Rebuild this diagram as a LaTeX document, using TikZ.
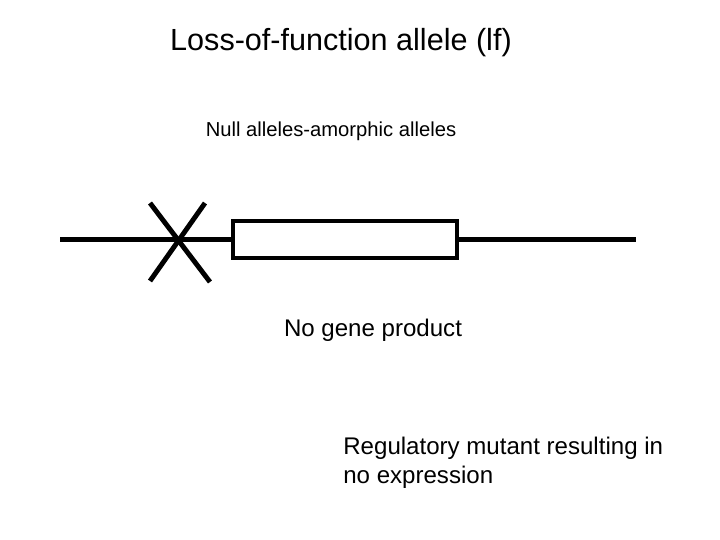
\documentclass[tikz,border=0pt]{standalone}
\usepackage{fontspec}
\setmainfont{Liberation Sans}
\usetikzlibrary{positioning}

\begin{document}
\begin{tikzpicture}[
  x=0.02cm, y=-0.02cm,
  strand/.style={line width=2.8pt, black},
  genebox/.style={draw, line width=2.8pt, rectangle, minimum width=4.48cm, minimum height=0.74cm, inner sep=0pt},
  label/.style={font=\fontsize{13.7}{16.5}\selectfont, align=left, inner sep=0pt}
]
\useasboundingbox (0,0) rectangle (720,540);

% Title and subtitle
\node[font=\fontsize{17.4}{20}\selectfont] (title) at (341,43) {Loss-of-function allele (lf)};
\node[label, font=\fontsize{11.5}{15}\selectfont] (kind) at (331,131) {Null alleles-amorphic alleles};

% Gene with flanking DNA
\node[genebox] (gene) at (345,239.5) {};
\coordinate (left) at (60,239.5);
\coordinate (right) at (636,239.5);
\draw[strand] (left) -- (gene.west);
\draw[strand] (gene.east) -- (right);

% Mutation mark
\coordinate (xa) at (150,203);
\coordinate (xb) at (210,282);
\coordinate (xc) at (205,203);
\coordinate (xd) at (150,281);
\draw[strand] (xa) -- (xb);
\draw[strand] (xc) -- (xd);

% Notes
\node[label] (product) at (373,330) {No gene product};
\node[label, anchor=north west] (regnote) at (343,437) {Regulatory mutant resulting in\\no expression};
\end{tikzpicture}
\end{document}
